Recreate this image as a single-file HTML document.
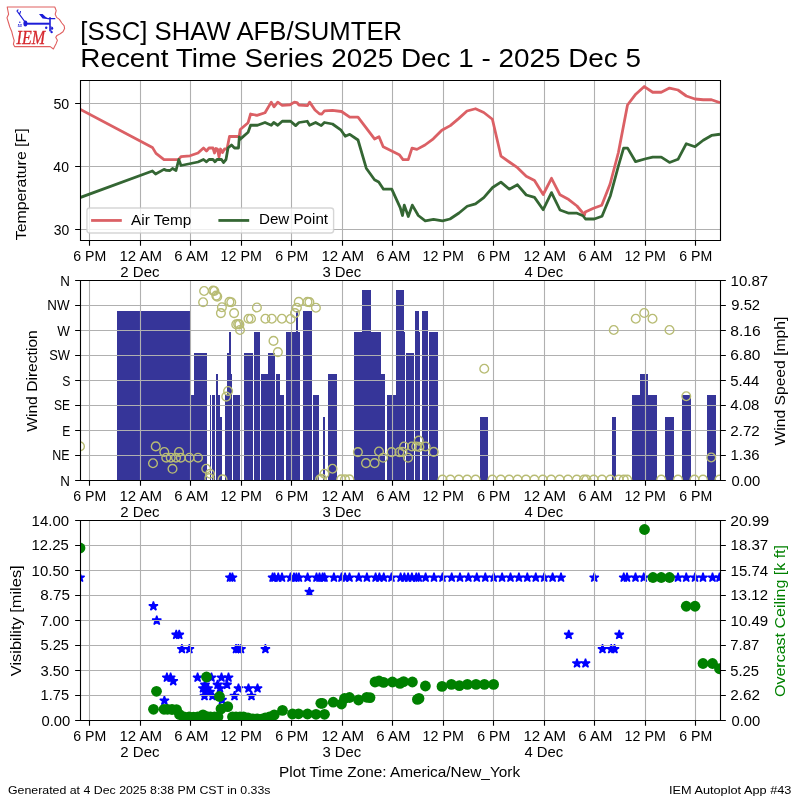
<!DOCTYPE html>
<html><head><meta charset="utf-8"><title>IEM Autoplot 43</title><style>html,body{margin:0;padding:0;background:#fff}svg{display:block}text{white-space:pre}svg{will-change:transform}</style></head>
<body>
<svg width="800" height="800" viewBox="0 0 800 800" font-family="'Liberation Sans', sans-serif">
<rect width="800" height="800" fill="#fff"/>
<defs><clipPath id="c1"><rect x="80" y="80" width="640" height="160"/></clipPath><clipPath id="c2"><rect x="80" y="280" width="640" height="200"/></clipPath><clipPath id="c3"><rect x="80" y="520" width="640" height="200"/></clipPath>
<polygon id="s" points="0.00,-4.80 1.08,-1.48 4.57,-1.48 1.74,0.57 2.82,3.88 0.00,1.83 -2.82,3.88 -1.74,0.57 -4.57,-1.48 -1.08,-1.48" fill="#00f" stroke="#00f" stroke-width="1.39" stroke-linejoin="bevel"/>
<circle id="d" r="5.4" fill="#008000"/>
<circle id="w" r="4.35" fill="none" stroke="#b8bc74" stroke-width="1.39"/>
</defs>
<g stroke="#b0b0b0" stroke-width="1.11" fill="none"><path d="M89.50 80.5 V240.5M140.50 80.5 V240.5M190.50 80.5 V240.5M241.50 80.5 V240.5M291.50 80.5 V240.5M342.50 80.5 V240.5M392.50 80.5 V240.5M443.50 80.5 V240.5M493.50 80.5 V240.5M544.50 80.5 V240.5M594.50 80.5 V240.5M645.50 80.5 V240.5M695.50 80.5 V240.5M80.5 229.50 H720.5M80.5 166.50 H720.5M80.5 103.50 H720.5"/></g>
<g clip-path="url(#c1)" fill="none" stroke-width="2.78" stroke-linejoin="round" stroke-linecap="butt">
<polyline stroke="#db6065" points="80,109.3 152.4,147.4 156,153.4 164,159.6 178.5,159.7 181,156.7 190,155.8 198,153 203.5,148 206.5,151 209,148 213,148 214.5,153 216,148.5 217.5,149 219,157 220.5,149 222.5,152.5 224.5,149 227,149 229.5,136.5 239.2,136.5 240.25,129.5 248.1,122.7 250.6,114 256.9,115.4 265,112.75 271.25,102.1 274,106.9 277.75,102.1 282.25,105.4 290,104.75 294.4,102.1 296.9,102.5 299,105 307.5,105.6 309.6,102.1 315,110 319.4,113.75 321.9,114 324.4,110.9 332.5,110.45 341.5,111.5 349.75,117.2 358,117.2 374.5,138.95 379,136.7 383.2,146.75 399.25,154.7 403,159.6 408.25,159.6 412,148.1 416.9,149.4 425,145 433.3,138.8 441.8,130.2 450.3,125.6 458.6,118.6 467,111 475.5,108.75 483.8,112.5 492.4,119.25 501,156.2 509.3,162 517.5,167.7 526.25,176.25 534.5,180.45 543.2,194.5 551.5,178.3 560,194.8 568.75,199.55 577,206 584.5,215 585.25,212 593.5,208.25 601.75,205.25 610.1,184 618.4,152.5 627.5,105 635.75,94.2 644.3,86.55 652.7,92.25 661.25,92.25 669.5,88.05 678,90 686.3,96 695,99 703.25,99.75 711.5,99.75 720,102.75"/>
<polyline stroke="#346633" points="80,197.6 152.4,171 155.6,174 164,169.4 166.4,170.4 170,170.5 172.5,168.5 176,170.5 178.8,159.5 181,165.5 198,162 203.5,159.5 206.5,161.8 209,159.5 213,159.5 215,161.8 217,159.5 221.5,159.5 223.5,162.5 226,159.5 228,148 231.5,145 234.5,148 238.5,148 239.3,137 240,139.4 248.1,132.3 250.6,125.25 257.5,125.25 265,122.5 271.25,125.25 273.75,122.5 277.75,125.25 282.25,121.25 290.6,121.25 295.6,125.6 299,122.5 307.25,121.25 309.6,125.25 315.6,122.5 321.25,125.6 324.4,122.5 332.5,124 340.75,129.8 345.25,136.25 349.75,134.3 358,140 366.25,168.2 374.5,179.75 378.7,182 383.5,189.2 391.75,189.2 400.2,207.6 402.5,215.5 404.3,205.1 408.3,216.5 412.3,205.1 418.3,215.5 425.25,220.8 433.5,219.3 442.5,220.8 450,219 459,213 467.2,206.25 475.5,203.9 483.8,197.7 492.6,187.5 500.9,182.1 509.3,189.2 517.5,184.8 526.25,195 534.5,197.4 543.2,209.7 551.5,192.6 560,210 568.75,213.2 577,213.2 583,215.75 585.5,219 594.25,219 602,216.2 610.4,195.7 618.4,166 623.6,148.1 627.6,148.1 635.6,161.7 645.7,158.75 652.7,157.05 661.25,157.05 669.5,162.45 678,159.3 686.3,143.7 695,146.7 703.25,140.25 711.5,135.45 720,134.25"/>
</g>
<rect x="86.94" y="207.94" width="246.67" height="25.11" rx="2.8" fill="#fff" fill-opacity="0.8" stroke="#ccc" stroke-opacity="0.8" stroke-width="1.39"/>
<path d="M91.1 220.45 H121.8" stroke="#db6065" stroke-width="2.78"/><path d="M218.4 220.45 H249.2" stroke="#346633" stroke-width="2.78"/>
<path d="M80.5 80.5 H720.5 V240.5 H80.5 Z" fill="none" stroke="#000" stroke-width="1.11" stroke-linejoin="miter"/><path d="M89.50 241 v4.86M140.50 241 v4.86M190.50 241 v4.86M241.50 241 v4.86M291.50 241 v4.86M342.50 241 v4.86M392.50 241 v4.86M443.50 241 v4.86M493.50 241 v4.86M544.50 241 v4.86M594.50 241 v4.86M645.50 241 v4.86M695.50 241 v4.86M80 229.50 h-4.86M80 166.50 h-4.86M80 103.50 h-4.86" fill="none" stroke="#000" stroke-width="1.11"/>
<g fill="#363599">
<rect x="117" y="311" width="73" height="169.5"/>
<rect x="191" y="395" width="3" height="85.5"/>
<rect x="194" y="353" width="13" height="127.5"/>
<rect x="210" y="395" width="1" height="85.5"/>
<rect x="212" y="395" width="3" height="85.5"/>
<rect x="216" y="374" width="2" height="106.5"/>
<rect x="218" y="395" width="2" height="85.5"/>
<rect x="220" y="417" width="2" height="63.5"/>
<rect x="225" y="395" width="2" height="85.5"/>
<rect x="227" y="353" width="2" height="127.5"/>
<rect x="229" y="332" width="2" height="148.5"/>
<rect x="231" y="374" width="1" height="106.5"/>
<rect x="233" y="395" width="7" height="85.5"/>
<rect x="244" y="353" width="9" height="127.5"/>
<rect x="254" y="332" width="6" height="148.5"/>
<rect x="261" y="374" width="7" height="106.5"/>
<rect x="268" y="353" width="7" height="127.5"/>
<rect x="276" y="374" width="4" height="106.5"/>
<rect x="280" y="395" width="4" height="85.5"/>
<rect x="286" y="332" width="14" height="148.5"/>
<rect x="296" y="311" width="2" height="169.5"/>
<rect x="303" y="311" width="9" height="169.5"/>
<rect x="313" y="395" width="6" height="85.5"/>
<rect x="323" y="417" width="2" height="63.5"/>
<rect x="328" y="374" width="9" height="106.5"/>
<rect x="354" y="332" width="27" height="148.5"/>
<rect x="362" y="290" width="9" height="190.5"/>
<rect x="381" y="374" width="4" height="106.5"/>
<rect x="387" y="395" width="9" height="85.5"/>
<rect x="396" y="290" width="8" height="190.5"/>
<rect x="404" y="332" width="1" height="148.5"/>
<rect x="406" y="353" width="8" height="127.5"/>
<rect x="415" y="311" width="4" height="169.5"/>
<rect x="419" y="332" width="1" height="148.5"/>
<rect x="422" y="311" width="6" height="169.5"/>
<rect x="429" y="332" width="9" height="148.5"/>
<rect x="480" y="417" width="8" height="63.5"/>
<rect x="612" y="417" width="4" height="63.5"/>
<rect x="632" y="395" width="25" height="85.5"/>
<rect x="640" y="374" width="8" height="106.5"/>
<rect x="665" y="417" width="9" height="63.5"/>
<rect x="682" y="395" width="9" height="85.5"/>
<rect x="707" y="395" width="9" height="85.5"/>
</g>
<g stroke="#b0b0b0" stroke-width="1.11" fill="none"><path d="M89.50 280.5 V480.5M140.50 280.5 V480.5M190.50 280.5 V480.5M241.50 280.5 V480.5M291.50 280.5 V480.5M342.50 280.5 V480.5M392.50 280.5 V480.5M443.50 280.5 V480.5M493.50 280.5 V480.5M544.50 280.5 V480.5M594.50 280.5 V480.5M645.50 280.5 V480.5M695.50 280.5 V480.5M80.5 480.50 H720.5M80.5 455.50 H720.5M80.5 430.50 H720.5M80.5 405.50 H720.5M80.5 380.50 H720.5M80.5 355.50 H720.5M80.5 330.50 H720.5M80.5 305.50 H720.5M80.5 280.50 H720.5"/></g>
<g clip-path="url(#c2)">
<use href="#w" x="80" y="446.4"/>
<use href="#w" x="155.75" y="446.4"/>
<use href="#w" x="153" y="463.25"/>
<use href="#w" x="164.3" y="452"/>
<use href="#w" x="166.25" y="457.7"/>
<use href="#w" x="170.75" y="457.7"/>
<use href="#w" x="172.5" y="468.8"/>
<use href="#w" x="176" y="457.7"/>
<use href="#w" x="179" y="452"/>
<use href="#w" x="180.8" y="457.7"/>
<use href="#w" x="189.5" y="457.7"/>
<use href="#w" x="198" y="457.7"/>
<use href="#w" x="206.25" y="468.75"/>
<use href="#w" x="210" y="473.75"/>
<use href="#w" x="209.4" y="478.1"/>
<use href="#w" x="222.5" y="479.4"/>
<use href="#w" x="228.1" y="391"/>
<use href="#w" x="226.25" y="396.6"/>
<use href="#w" x="204.1" y="291"/>
<use href="#w" x="203.1" y="302.25"/>
<use href="#w" x="213.1" y="290.6"/>
<use href="#w" x="214.4" y="291"/>
<use href="#w" x="216.25" y="295.6"/>
<use href="#w" x="217.25" y="296.6"/>
<use href="#w" x="221.9" y="307.25"/>
<use href="#w" x="220.9" y="313.1"/>
<use href="#w" x="229.4" y="301.9"/>
<use href="#w" x="231.25" y="302.25"/>
<use href="#w" x="234.1" y="313.1"/>
<use href="#w" x="236.25" y="324.4"/>
<use href="#w" x="238.1" y="324"/>
<use href="#w" x="239.4" y="324.4"/>
<use href="#w" x="240" y="330"/>
<use href="#w" x="248.5" y="318.75"/>
<use href="#w" x="251" y="318.75"/>
<use href="#w" x="256.9" y="307.5"/>
<use href="#w" x="265.4" y="318.75"/>
<use href="#w" x="271.8" y="318.75"/>
<use href="#w" x="281.9" y="318.75"/>
<use href="#w" x="290.6" y="319"/>
<use href="#w" x="295" y="313.1"/>
<use href="#w" x="296.9" y="307.75"/>
<use href="#w" x="298.75" y="301.9"/>
<use href="#w" x="307.5" y="301.9"/>
<use href="#w" x="309.4" y="302.1"/>
<use href="#w" x="315.9" y="307.75"/>
<use href="#w" x="273.5" y="340.9"/>
<use href="#w" x="277.9" y="352.1"/>
<use href="#w" x="357.9" y="452.1"/>
<use href="#w" x="366" y="463.1"/>
<use href="#w" x="374.6" y="463.1"/>
<use href="#w" x="379" y="451.5"/>
<use href="#w" x="383.1" y="457.75"/>
<use href="#w" x="391.6" y="452.1"/>
<use href="#w" x="399.4" y="452.1"/>
<use href="#w" x="402.5" y="451.9"/>
<use href="#w" x="404.1" y="446.5"/>
<use href="#w" x="408.1" y="457.75"/>
<use href="#w" x="411.9" y="446.5"/>
<use href="#w" x="416.25" y="446.5"/>
<use href="#w" x="418.75" y="440.6"/>
<use href="#w" x="419.4" y="446.9"/>
<use href="#w" x="425.6" y="446.5"/>
<use href="#w" x="433.75" y="451.9"/>
<use href="#w" x="332.5" y="468.75"/>
<use href="#w" x="324.4" y="473.75"/>
<use href="#w" x="320" y="479.4"/>
<use href="#w" x="321.9" y="478.75"/>
<use href="#w" x="341.25" y="479.4"/>
<use href="#w" x="345" y="479.4"/>
<use href="#w" x="349.4" y="479.4"/>
<use href="#w" x="484.25" y="368.75"/>
<use href="#w" x="613.75" y="330"/>
<use href="#w" x="635.75" y="318.75"/>
<use href="#w" x="644.25" y="313"/>
<use href="#w" x="652.5" y="318.75"/>
<use href="#w" x="669.5" y="330"/>
<use href="#w" x="686.25" y="396.25"/>
<use href="#w" x="711.25" y="457.5"/>
<use href="#w" x="442.5" y="479.6"/>
<use href="#w" x="450.4" y="479.6"/>
<use href="#w" x="458.8" y="479.6"/>
<use href="#w" x="467.2" y="479.6"/>
<use href="#w" x="475.6" y="479.6"/>
<use href="#w" x="492.4" y="479.6"/>
<use href="#w" x="500.8" y="479.6"/>
<use href="#w" x="509.2" y="479.6"/>
<use href="#w" x="517.6" y="479.6"/>
<use href="#w" x="526" y="479.6"/>
<use href="#w" x="534.4" y="479.6"/>
<use href="#w" x="542.8" y="479.6"/>
<use href="#w" x="551.2" y="479.6"/>
<use href="#w" x="559.6" y="479.6"/>
<use href="#w" x="568" y="479.6"/>
<use href="#w" x="576.8" y="479.6"/>
<use href="#w" x="584" y="479.6"/>
<use href="#w" x="586.5" y="479.6"/>
<use href="#w" x="593.75" y="479.6"/>
<use href="#w" x="602" y="479.6"/>
<use href="#w" x="610.3" y="479.6"/>
<use href="#w" x="618.75" y="479.6"/>
<use href="#w" x="623.75" y="479.6"/>
<use href="#w" x="627.2" y="479.6"/>
<use href="#w" x="661.25" y="479.6"/>
<use href="#w" x="678" y="479.6"/>
<use href="#w" x="694.5" y="479.6"/>
<use href="#w" x="703" y="479.6"/>
<use href="#w" x="719.5" y="479.6"/>
</g>
<path d="M80.5 280.5 H720.5 V480.5 H80.5 Z" fill="none" stroke="#000" stroke-width="1.11" stroke-linejoin="miter"/><path d="M89.50 481 v4.86M140.50 481 v4.86M190.50 481 v4.86M241.50 481 v4.86M291.50 481 v4.86M342.50 481 v4.86M392.50 481 v4.86M443.50 481 v4.86M493.50 481 v4.86M544.50 481 v4.86M594.50 481 v4.86M645.50 481 v4.86M695.50 481 v4.86M80 480.50 h-4.86M80 455.50 h-4.86M80 430.50 h-4.86M80 405.50 h-4.86M80 380.50 h-4.86M80 355.50 h-4.86M80 330.50 h-4.86M80 305.50 h-4.86M80 280.50 h-4.86M721 480.50 h4.86M721 455.50 h4.86M721 430.50 h4.86M721 405.50 h4.86M721 380.50 h4.86M721 355.50 h4.86M721 330.50 h4.86M721 305.50 h4.86M721 280.50 h4.86" fill="none" stroke="#000" stroke-width="1.11"/>
<g clip-path="url(#c3)">
<use href="#s" x="80" y="577.6"/>
<use href="#s" x="230" y="577.6"/>
<use href="#s" x="232.4" y="577.6"/>
<use href="#s" x="272.6" y="577.6"/>
<use href="#s" x="274.5" y="577.6"/>
<use href="#s" x="278.25" y="577.6"/>
<use href="#s" x="282" y="577.6"/>
<use href="#s" x="290.5" y="577.6"/>
<use href="#s" x="294" y="577.6"/>
<use href="#s" x="296.4" y="577.6"/>
<use href="#s" x="298.9" y="577.6"/>
<use href="#s" x="307.6" y="577.6"/>
<use href="#s" x="316.5" y="577.6"/>
<use href="#s" x="319.5" y="577.6"/>
<use href="#s" x="322.6" y="577.6"/>
<use href="#s" x="324.5" y="577.6"/>
<use href="#s" x="333.9" y="577.6"/>
<use href="#s" x="341.5" y="577.6"/>
<use href="#s" x="345.1" y="577.6"/>
<use href="#s" x="349.5" y="577.6"/>
<use href="#s" x="358.75" y="577.6"/>
<use href="#s" x="366.9" y="577.6"/>
<use href="#s" x="375.6" y="577.6"/>
<use href="#s" x="379.4" y="577.6"/>
<use href="#s" x="383.75" y="577.6"/>
<use href="#s" x="391.5" y="577.6"/>
<use href="#s" x="400.6" y="577.6"/>
<use href="#s" x="404.4" y="577.6"/>
<use href="#s" x="408.1" y="577.6"/>
<use href="#s" x="411.9" y="577.6"/>
<use href="#s" x="416.25" y="577.6"/>
<use href="#s" x="418.75" y="577.6"/>
<use href="#s" x="425.6" y="577.6"/>
<use href="#s" x="434" y="577.6"/>
<use href="#s" x="442.5" y="577.6"/>
<use href="#s" x="451.7" y="577.6"/>
<use href="#s" x="460" y="577.6"/>
<use href="#s" x="468.4" y="577.6"/>
<use href="#s" x="476.8" y="577.6"/>
<use href="#s" x="485.3" y="577.6"/>
<use href="#s" x="493.7" y="577.6"/>
<use href="#s" x="502.1" y="577.6"/>
<use href="#s" x="510.5" y="577.6"/>
<use href="#s" x="518.9" y="577.6"/>
<use href="#s" x="527.3" y="577.6"/>
<use href="#s" x="535.75" y="577.6"/>
<use href="#s" x="544.2" y="577.6"/>
<use href="#s" x="552.6" y="577.6"/>
<use href="#s" x="561" y="577.6"/>
<use href="#s" x="594.25" y="577.6"/>
<use href="#s" x="623.75" y="577.6"/>
<use href="#s" x="627" y="577.6"/>
<use href="#s" x="635.5" y="577.6"/>
<use href="#s" x="643.75" y="577.6"/>
<use href="#s" x="652.5" y="577.6"/>
<use href="#s" x="661" y="577.6"/>
<use href="#s" x="669.5" y="577.6"/>
<use href="#s" x="678" y="577.6"/>
<use href="#s" x="686.25" y="577.6"/>
<use href="#s" x="695" y="577.6"/>
<use href="#s" x="703" y="577.6"/>
<use href="#s" x="712.5" y="577.6"/>
<use href="#s" x="719.5" y="577.6"/>
<use href="#s" x="309.4" y="591.9"/>
<use href="#s" x="236" y="649.1"/>
<use href="#s" x="238.4" y="649.1"/>
<use href="#s" x="241" y="649.1"/>
<use href="#s" x="265.4" y="649.1"/>
<use href="#s" x="181.9" y="649.1"/>
<use href="#s" x="189.4" y="649.1"/>
<use href="#s" x="153.4" y="606.2"/>
<use href="#s" x="156.75" y="620.5"/>
<use href="#s" x="176.25" y="634.8"/>
<use href="#s" x="179.25" y="634.8"/>
<use href="#s" x="166.9" y="677.6"/>
<use href="#s" x="170.6" y="677.6"/>
<use href="#s" x="173.25" y="681.2"/>
<use href="#s" x="164.4" y="700.7"/>
<use href="#s" x="197.6" y="677.6"/>
<use href="#s" x="211.5" y="677.6"/>
<use href="#s" x="221.5" y="677.6"/>
<use href="#s" x="228.5" y="677.6"/>
<use href="#s" x="205" y="684.8"/>
<use href="#s" x="217.5" y="684.8"/>
<use href="#s" x="227" y="684.8"/>
<use href="#s" x="203" y="688.4"/>
<use href="#s" x="208" y="688.4"/>
<use href="#s" x="220" y="688.4"/>
<use href="#s" x="238.5" y="688.4"/>
<use href="#s" x="248.5" y="688.4"/>
<use href="#s" x="257.5" y="688.4"/>
<use href="#s" x="205" y="691.9"/>
<use href="#s" x="210" y="691.9"/>
<use href="#s" x="204.5" y="696"/>
<use href="#s" x="212.5" y="696"/>
<use href="#s" x="234.5" y="696"/>
<use href="#s" x="251.5" y="696"/>
<use href="#s" x="222" y="700"/>
<use href="#s" x="568.75" y="634.8"/>
<use href="#s" x="619.25" y="634.8"/>
<use href="#s" x="602.5" y="649.1"/>
<use href="#s" x="611.25" y="649.1"/>
<use href="#s" x="614.5" y="649.1"/>
<use href="#s" x="577" y="663.4"/>
<use href="#s" x="585.5" y="663.4"/>
</g>
<g stroke="#b0b0b0" stroke-width="1.11" fill="none"><path d="M89.50 520.5 V720.5M140.50 520.5 V720.5M190.50 520.5 V720.5M241.50 520.5 V720.5M291.50 520.5 V720.5M342.50 520.5 V720.5M392.50 520.5 V720.5M443.50 520.5 V720.5M493.50 520.5 V720.5M544.50 520.5 V720.5M594.50 520.5 V720.5M645.50 520.5 V720.5M695.50 520.5 V720.5M80.5 720.50 H720.5M80.5 695.50 H720.5M80.5 670.50 H720.5M80.5 645.50 H720.5M80.5 620.50 H720.5M80.5 595.50 H720.5M80.5 570.50 H720.5M80.5 545.50 H720.5M80.5 520.50 H720.5"/></g>
<g clip-path="url(#c3)">
<use href="#d" x="80" y="548"/>
<use href="#d" x="156.5" y="691.3"/>
<use href="#d" x="153.5" y="709.3"/>
<use href="#d" x="164" y="709.3"/>
<use href="#d" x="167.5" y="709.3"/>
<use href="#d" x="172" y="709.5"/>
<use href="#d" x="176.5" y="709.6"/>
<use href="#d" x="179.5" y="714.5"/>
<use href="#d" x="184" y="716.8"/>
<use href="#d" x="189.2" y="716.8"/>
<use href="#d" x="193.5" y="717.2"/>
<use href="#d" x="197.75" y="716.8"/>
<use href="#d" x="203" y="714.9"/>
<use href="#d" x="207" y="716.6"/>
<use href="#d" x="210.5" y="716.8"/>
<use href="#d" x="214.5" y="716.8"/>
<use href="#d" x="218" y="716.8"/>
<use href="#d" x="206.5" y="677"/>
<use href="#d" x="219.5" y="696.5"/>
<use href="#d" x="221" y="708.9"/>
<use href="#d" x="227.75" y="706.65"/>
<use href="#d" x="232.5" y="716.8"/>
<use href="#d" x="236" y="716.8"/>
<use href="#d" x="240" y="716.8"/>
<use href="#d" x="243.5" y="716.8"/>
<use href="#d" x="248" y="717.9"/>
<use href="#d" x="252.5" y="719"/>
<use href="#d" x="257.4" y="718.8"/>
<use href="#d" x="261.5" y="719.2"/>
<use href="#d" x="265.25" y="717.9"/>
<use href="#d" x="269.5" y="717"/>
<use href="#d" x="274.25" y="714.9"/>
<use href="#d" x="282.5" y="710.4"/>
<use href="#d" x="292.5" y="714"/>
<use href="#d" x="298.5" y="713.8"/>
<use href="#d" x="307.5" y="714"/>
<use href="#d" x="316" y="714.3"/>
<use href="#d" x="324.5" y="714.3"/>
<use href="#d" x="320.8" y="703.3"/>
<use href="#d" x="322.4" y="703.3"/>
<use href="#d" x="333.2" y="702.2"/>
<use href="#d" x="341.5" y="704"/>
<use href="#d" x="344.5" y="698.5"/>
<use href="#d" x="349.5" y="697.5"/>
<use href="#d" x="358.5" y="700"/>
<use href="#d" x="366.7" y="697.3"/>
<use href="#d" x="370" y="697.6"/>
<use href="#d" x="375" y="682"/>
<use href="#d" x="379" y="681"/>
<use href="#d" x="383.6" y="682.4"/>
<use href="#d" x="392.4" y="682"/>
<use href="#d" x="400" y="683.4"/>
<use href="#d" x="403.6" y="681.6"/>
<use href="#d" x="412.4" y="682"/>
<use href="#d" x="425.4" y="686"/>
<use href="#d" x="419" y="698.4"/>
<use href="#d" x="417.4" y="699.4"/>
<use href="#d" x="442" y="686.4"/>
<use href="#d" x="451.4" y="684.4"/>
<use href="#d" x="459.4" y="685.6"/>
<use href="#d" x="467.4" y="684.4"/>
<use href="#d" x="476" y="684.4"/>
<use href="#d" x="484.4" y="684.4"/>
<use href="#d" x="493.6" y="684.4"/>
<use href="#d" x="644.5" y="529.5"/>
<use href="#d" x="653" y="577.5"/>
<use href="#d" x="661.25" y="577.5"/>
<use href="#d" x="669.5" y="577.5"/>
<use href="#d" x="686.25" y="606.25"/>
<use href="#d" x="695" y="606.25"/>
<use href="#d" x="703" y="663.5"/>
<use href="#d" x="712.5" y="663.5"/>
<use href="#d" x="719.5" y="668.75"/>
</g>
<path d="M80.5 520.5 H720.5 V720.5 H80.5 Z" fill="none" stroke="#000" stroke-width="1.11" stroke-linejoin="miter"/><path d="M89.50 721 v4.86M140.50 721 v4.86M190.50 721 v4.86M241.50 721 v4.86M291.50 721 v4.86M342.50 721 v4.86M392.50 721 v4.86M443.50 721 v4.86M493.50 721 v4.86M544.50 721 v4.86M594.50 721 v4.86M645.50 721 v4.86M695.50 721 v4.86M80 720.50 h-4.86M80 695.50 h-4.86M80 670.50 h-4.86M80 645.50 h-4.86M80 620.50 h-4.86M80 595.50 h-4.86M80 570.50 h-4.86M80 545.50 h-4.86M80 520.50 h-4.86M721 720.50 h4.86M721 695.50 h4.86M721 670.50 h4.86M721 645.50 h4.86M721 620.50 h4.86M721 595.50 h4.86M721 570.50 h4.86M721 545.50 h4.86M721 520.50 h4.86" fill="none" stroke="#000" stroke-width="1.11"/>
<g id="logo">
<path d="M7.2 7 H54.8 L56.2 10.6 L55.2 14.2 L56.6 17.4 L59.4 19.4 L61.8 23 L64.2 25.8 L64.6 28.6 L63 31.8 L60.2 33.8 L57 35.4 L55.8 37.4 L57.4 40.2 L56.2 43.4 L55 45.8 L53.4 49 L50.2 46.6 H14.6 L13.4 44.2 L14.2 40.6 L13 36.6 L11.8 31.8 L9.8 27 L8.6 23 L7 17.8 L8.6 14.2 L7.8 10.2 Z" fill="#fff" stroke="#e06060" stroke-width="1.1" stroke-linejoin="round"/>
<g stroke="#1c1cd8" fill="#1c1cd8" stroke-linecap="round">
<path d="M27 23.7 H49.8" stroke-width="2" fill="none" stroke-linecap="butt"/>
<path d="M24.6 21.4 L18.2 12.6 L17 11 L18 9.9 M19.8 13.6 L20.5 11.5" stroke-width="1.1" fill="none"/>
<ellipse cx="25.4" cy="23.6" rx="2" ry="3" stroke="none"/>
<path d="M50 17.8 V30.8" stroke-width="1.6" fill="none"/>
<path d="M48.2 18.7 H54.8" stroke-width="1.2" fill="none"/>
<path d="M39 14 L42.6 14.1 L45.8 16.9 L48.8 18.4 L48.6 19.2 L42.6 18.4 Z" stroke="none"/>
<circle cx="19.8" cy="22.2" r="0.7" stroke="none"/><circle cx="18.7" cy="24.8" r="0.7" stroke="none"/><circle cx="21" cy="24.8" r="0.7" stroke="none"/>
<path d="M18.2 26.2 H21.4" stroke-width="0.8" fill="none"/>
<circle cx="46.2" cy="27.8" r="1.2" stroke="none"/><ellipse cx="52.2" cy="28.3" rx="1" ry="1.5" stroke="none"/><circle cx="51.7" cy="32.2" r="1.1" stroke="none"/>
<path d="M51 26.6 V32" stroke-width="0.9" fill="none"/>
</g>
<text x="16.6" y="44.2" font-family="'Liberation Serif', serif" font-style="italic" font-size="18.2" fill="#d6262c" stroke="#d6262c" stroke-width="0.3" textLength="28.4" lengthAdjust="spacingAndGlyphs">IEM</text>
</g>
<text x="80.27" y="40.00" font-size="25.50" textLength="321.85" lengthAdjust="spacingAndGlyphs" fill="#000000">[SSC] SHAW AFB/SUMTER</text>
<text x="80.28" y="66.75" font-size="25.50" textLength="560.72" lengthAdjust="spacingAndGlyphs" fill="#000000">Recent Time Series 2025 Dec 1 - 2025 Dec 5</text>
<text x="-56.52" y="0.00" font-size="14.17" textLength="111.81" lengthAdjust="spacingAndGlyphs" fill="#000000" transform="translate(26.22 183.70) rotate(-90)">Temperature [F]</text>
<text x="8.00" y="794.00" font-size="11.33" textLength="262.52" lengthAdjust="spacingAndGlyphs" fill="#000000">Generated at 4 Dec 2025 8:38 PM CST in 0.33s</text>
<text x="668.94" y="793.99" font-size="11.33" textLength="122.50" lengthAdjust="spacingAndGlyphs" fill="#000000">IEM Autoplot App #43</text>
<text x="73.34" y="260.72" font-size="14.17" textLength="32.98" lengthAdjust="spacingAndGlyphs" fill="#000000">6 PM</text>
<text x="119.50" y="260.72" font-size="14.17" textLength="42.63" lengthAdjust="spacingAndGlyphs" fill="#000000">12 AM</text>
<text x="120.29" y="276.92" font-size="14.17" textLength="39.24" lengthAdjust="spacingAndGlyphs" fill="#000000">2 Dec</text>
<text x="174.37" y="260.72" font-size="14.17" textLength="34.10" lengthAdjust="spacingAndGlyphs" fill="#000000">6 AM</text>
<text x="220.64" y="260.72" font-size="14.17" textLength="41.25" lengthAdjust="spacingAndGlyphs" fill="#000000">12 PM</text>
<text x="275.34" y="260.72" font-size="14.17" textLength="32.98" lengthAdjust="spacingAndGlyphs" fill="#000000">6 PM</text>
<text x="321.50" y="260.72" font-size="14.17" textLength="42.63" lengthAdjust="spacingAndGlyphs" fill="#000000">12 AM</text>
<text x="322.45" y="276.92" font-size="14.17" textLength="38.87" lengthAdjust="spacingAndGlyphs" fill="#000000">3 Dec</text>
<text x="376.37" y="260.72" font-size="14.17" textLength="34.10" lengthAdjust="spacingAndGlyphs" fill="#000000">6 AM</text>
<text x="422.64" y="260.72" font-size="14.17" textLength="41.25" lengthAdjust="spacingAndGlyphs" fill="#000000">12 PM</text>
<text x="477.34" y="260.72" font-size="14.17" textLength="32.98" lengthAdjust="spacingAndGlyphs" fill="#000000">6 PM</text>
<text x="523.50" y="260.72" font-size="14.17" textLength="42.63" lengthAdjust="spacingAndGlyphs" fill="#000000">12 AM</text>
<text x="524.40" y="276.92" font-size="14.17" textLength="38.88" lengthAdjust="spacingAndGlyphs" fill="#000000">4 Dec</text>
<text x="578.37" y="260.72" font-size="14.17" textLength="34.10" lengthAdjust="spacingAndGlyphs" fill="#000000">6 AM</text>
<text x="624.64" y="260.72" font-size="14.17" textLength="41.25" lengthAdjust="spacingAndGlyphs" fill="#000000">12 PM</text>
<text x="679.34" y="260.72" font-size="14.17" textLength="32.98" lengthAdjust="spacingAndGlyphs" fill="#000000">6 PM</text>
<text x="53.67" y="234.98" font-size="14.17" textLength="15.49" lengthAdjust="spacingAndGlyphs" fill="#000000">30</text>
<text x="53.36" y="171.99" font-size="14.17" textLength="15.56" lengthAdjust="spacingAndGlyphs" fill="#000000">40</text>
<text x="53.41" y="109.00" font-size="14.17" textLength="15.80" lengthAdjust="spacingAndGlyphs" fill="#000000">50</text>
<text x="73.34" y="500.72" font-size="14.17" textLength="32.98" lengthAdjust="spacingAndGlyphs" fill="#000000">6 PM</text>
<text x="119.50" y="500.72" font-size="14.17" textLength="42.63" lengthAdjust="spacingAndGlyphs" fill="#000000">12 AM</text>
<text x="120.29" y="516.92" font-size="14.17" textLength="39.24" lengthAdjust="spacingAndGlyphs" fill="#000000">2 Dec</text>
<text x="174.37" y="500.72" font-size="14.17" textLength="34.10" lengthAdjust="spacingAndGlyphs" fill="#000000">6 AM</text>
<text x="220.64" y="500.72" font-size="14.17" textLength="41.25" lengthAdjust="spacingAndGlyphs" fill="#000000">12 PM</text>
<text x="275.34" y="500.72" font-size="14.17" textLength="32.98" lengthAdjust="spacingAndGlyphs" fill="#000000">6 PM</text>
<text x="321.50" y="500.72" font-size="14.17" textLength="42.63" lengthAdjust="spacingAndGlyphs" fill="#000000">12 AM</text>
<text x="322.45" y="516.92" font-size="14.17" textLength="38.87" lengthAdjust="spacingAndGlyphs" fill="#000000">3 Dec</text>
<text x="376.37" y="500.72" font-size="14.17" textLength="34.10" lengthAdjust="spacingAndGlyphs" fill="#000000">6 AM</text>
<text x="422.64" y="500.72" font-size="14.17" textLength="41.25" lengthAdjust="spacingAndGlyphs" fill="#000000">12 PM</text>
<text x="477.34" y="500.72" font-size="14.17" textLength="32.98" lengthAdjust="spacingAndGlyphs" fill="#000000">6 PM</text>
<text x="523.50" y="500.72" font-size="14.17" textLength="42.63" lengthAdjust="spacingAndGlyphs" fill="#000000">12 AM</text>
<text x="524.40" y="516.92" font-size="14.17" textLength="38.88" lengthAdjust="spacingAndGlyphs" fill="#000000">4 Dec</text>
<text x="578.37" y="500.72" font-size="14.17" textLength="34.10" lengthAdjust="spacingAndGlyphs" fill="#000000">6 AM</text>
<text x="624.64" y="500.72" font-size="14.17" textLength="41.25" lengthAdjust="spacingAndGlyphs" fill="#000000">12 PM</text>
<text x="679.34" y="500.72" font-size="14.17" textLength="32.98" lengthAdjust="spacingAndGlyphs" fill="#000000">6 PM</text>
<text x="60.31" y="485.50" font-size="14.17" textLength="9.66" lengthAdjust="spacingAndGlyphs" fill="#000000">N</text>
<text x="52.31" y="459.50" font-size="14.17" textLength="17.34" lengthAdjust="spacingAndGlyphs" fill="#000000">NE</text>
<text x="62.23" y="435.50" font-size="14.17" textLength="8.08" lengthAdjust="spacingAndGlyphs" fill="#000000">E</text>
<text x="54.00" y="409.50" font-size="14.17" textLength="16.11" lengthAdjust="spacingAndGlyphs" fill="#000000">SE</text>
<text x="62.24" y="385.50" font-size="14.17" textLength="8.15" lengthAdjust="spacingAndGlyphs" fill="#000000">S</text>
<text x="49.24" y="359.50" font-size="14.17" textLength="20.80" lengthAdjust="spacingAndGlyphs" fill="#000000">SW</text>
<text x="57.37" y="335.50" font-size="14.17" textLength="12.64" lengthAdjust="spacingAndGlyphs" fill="#000000">W</text>
<text x="47.28" y="309.50" font-size="14.17" textLength="22.30" lengthAdjust="spacingAndGlyphs" fill="#000000">NW</text>
<text x="60.31" y="285.50" font-size="14.17" textLength="9.66" lengthAdjust="spacingAndGlyphs" fill="#000000">N</text>
<text x="-51.80" y="0.00" font-size="14.17" textLength="101.59" lengthAdjust="spacingAndGlyphs" fill="#000000" transform="translate(37.29 380.00) rotate(-90)">Wind Direction</text>
<text x="73.34" y="740.72" font-size="14.17" textLength="32.98" lengthAdjust="spacingAndGlyphs" fill="#000000">6 PM</text>
<text x="119.50" y="740.72" font-size="14.17" textLength="42.63" lengthAdjust="spacingAndGlyphs" fill="#000000">12 AM</text>
<text x="120.29" y="756.92" font-size="14.17" textLength="39.24" lengthAdjust="spacingAndGlyphs" fill="#000000">2 Dec</text>
<text x="174.37" y="740.72" font-size="14.17" textLength="34.10" lengthAdjust="spacingAndGlyphs" fill="#000000">6 AM</text>
<text x="220.64" y="740.72" font-size="14.17" textLength="41.25" lengthAdjust="spacingAndGlyphs" fill="#000000">12 PM</text>
<text x="275.34" y="740.72" font-size="14.17" textLength="32.98" lengthAdjust="spacingAndGlyphs" fill="#000000">6 PM</text>
<text x="321.50" y="740.72" font-size="14.17" textLength="42.63" lengthAdjust="spacingAndGlyphs" fill="#000000">12 AM</text>
<text x="322.45" y="756.92" font-size="14.17" textLength="38.87" lengthAdjust="spacingAndGlyphs" fill="#000000">3 Dec</text>
<text x="376.37" y="740.72" font-size="14.17" textLength="34.10" lengthAdjust="spacingAndGlyphs" fill="#000000">6 AM</text>
<text x="422.64" y="740.72" font-size="14.17" textLength="41.25" lengthAdjust="spacingAndGlyphs" fill="#000000">12 PM</text>
<text x="477.34" y="740.72" font-size="14.17" textLength="32.98" lengthAdjust="spacingAndGlyphs" fill="#000000">6 PM</text>
<text x="523.50" y="740.72" font-size="14.17" textLength="42.63" lengthAdjust="spacingAndGlyphs" fill="#000000">12 AM</text>
<text x="524.40" y="756.92" font-size="14.17" textLength="38.88" lengthAdjust="spacingAndGlyphs" fill="#000000">4 Dec</text>
<text x="578.37" y="740.72" font-size="14.17" textLength="34.10" lengthAdjust="spacingAndGlyphs" fill="#000000">6 AM</text>
<text x="624.64" y="740.72" font-size="14.17" textLength="41.25" lengthAdjust="spacingAndGlyphs" fill="#000000">12 PM</text>
<text x="679.34" y="740.72" font-size="14.17" textLength="32.98" lengthAdjust="spacingAndGlyphs" fill="#000000">6 PM</text>
<text x="41.44" y="725.50" font-size="14.17" textLength="28.80" lengthAdjust="spacingAndGlyphs" fill="#000000">0.00</text>
<text x="40.60" y="699.50" font-size="14.17" textLength="28.41" lengthAdjust="spacingAndGlyphs" fill="#000000">1.75</text>
<text x="40.44" y="675.50" font-size="14.17" textLength="28.78" lengthAdjust="spacingAndGlyphs" fill="#000000">3.50</text>
<text x="40.46" y="649.50" font-size="14.17" textLength="28.50" lengthAdjust="spacingAndGlyphs" fill="#000000">5.25</text>
<text x="40.25" y="625.50" font-size="14.17" textLength="28.89" lengthAdjust="spacingAndGlyphs" fill="#000000">7.00</text>
<text x="40.38" y="599.50" font-size="14.17" textLength="29.68" lengthAdjust="spacingAndGlyphs" fill="#000000">8.75</text>
<text x="31.61" y="575.50" font-size="14.17" textLength="37.41" lengthAdjust="spacingAndGlyphs" fill="#000000">10.50</text>
<text x="31.62" y="549.50" font-size="14.17" textLength="37.20" lengthAdjust="spacingAndGlyphs" fill="#000000">12.25</text>
<text x="31.61" y="525.50" font-size="14.17" textLength="37.41" lengthAdjust="spacingAndGlyphs" fill="#000000">14.00</text>
<text x="-56.22" y="0.00" font-size="14.17" textLength="110.87" lengthAdjust="spacingAndGlyphs" fill="#000000" transform="translate(20.92 620.00) rotate(-90)">Visibility [miles]</text>
<text x="278.98" y="776.62" font-size="14.17" textLength="241.12" lengthAdjust="spacingAndGlyphs" fill="#000000">Plot Time Zone: America/New_York</text>
<text x="731.51" y="485.50" font-size="14.17" textLength="28.80" lengthAdjust="spacingAndGlyphs" fill="#000000">0.00</text>
<text x="730.57" y="459.50" font-size="14.17" textLength="28.99" lengthAdjust="spacingAndGlyphs" fill="#000000">1.36</text>
<text x="730.30" y="435.50" font-size="14.17" textLength="29.51" lengthAdjust="spacingAndGlyphs" fill="#000000">2.72</text>
<text x="730.26" y="409.50" font-size="14.17" textLength="29.17" lengthAdjust="spacingAndGlyphs" fill="#000000">4.08</text>
<text x="730.23" y="385.50" font-size="14.17" textLength="29.10" lengthAdjust="spacingAndGlyphs" fill="#000000">5.44</text>
<text x="730.25" y="359.50" font-size="14.17" textLength="30.14" lengthAdjust="spacingAndGlyphs" fill="#000000">6.80</text>
<text x="730.38" y="335.50" font-size="14.17" textLength="30.33" lengthAdjust="spacingAndGlyphs" fill="#000000">8.16</text>
<text x="731.32" y="309.50" font-size="14.17" textLength="28.79" lengthAdjust="spacingAndGlyphs" fill="#000000">9.52</text>
<text x="730.55" y="285.50" font-size="14.17" textLength="37.63" lengthAdjust="spacingAndGlyphs" fill="#000000">10.87</text>
<text x="-65.64" y="0.00" font-size="14.17" textLength="129.01" lengthAdjust="spacingAndGlyphs" fill="#000000" transform="translate(784.60 380.00) rotate(-90)">Wind Speed [mph]</text>
<text x="731.51" y="725.50" font-size="14.17" textLength="28.80" lengthAdjust="spacingAndGlyphs" fill="#000000">0.00</text>
<text x="730.30" y="699.50" font-size="14.17" textLength="29.79" lengthAdjust="spacingAndGlyphs" fill="#000000">2.62</text>
<text x="730.27" y="675.50" font-size="14.17" textLength="28.76" lengthAdjust="spacingAndGlyphs" fill="#000000">5.25</text>
<text x="730.32" y="649.50" font-size="14.17" textLength="28.90" lengthAdjust="spacingAndGlyphs" fill="#000000">7.87</text>
<text x="730.54" y="625.50" font-size="14.17" textLength="37.69" lengthAdjust="spacingAndGlyphs" fill="#000000">10.49</text>
<text x="730.56" y="599.50" font-size="14.17" textLength="37.41" lengthAdjust="spacingAndGlyphs" fill="#000000">13.12</text>
<text x="730.54" y="575.50" font-size="14.17" textLength="37.69" lengthAdjust="spacingAndGlyphs" fill="#000000">15.74</text>
<text x="730.55" y="549.50" font-size="14.17" textLength="37.63" lengthAdjust="spacingAndGlyphs" fill="#000000">18.37</text>
<text x="730.28" y="525.50" font-size="14.17" textLength="38.97" lengthAdjust="spacingAndGlyphs" fill="#000000">20.99</text>
<text x="-76.98" y="0.00" font-size="14.17" textLength="151.98" lengthAdjust="spacingAndGlyphs" fill="#008000" transform="translate(784.73 620.00) rotate(-90)">Overcast Ceiling [k ft]</text>
<text x="131.04" y="225.00" font-size="14.17" textLength="60.23" lengthAdjust="spacingAndGlyphs" fill="#000000">Air Temp</text>
<text x="259.00" y="224.00" font-size="14.17" textLength="69.05" lengthAdjust="spacingAndGlyphs" fill="#000000">Dew Point</text>
</svg>
</body></html>
